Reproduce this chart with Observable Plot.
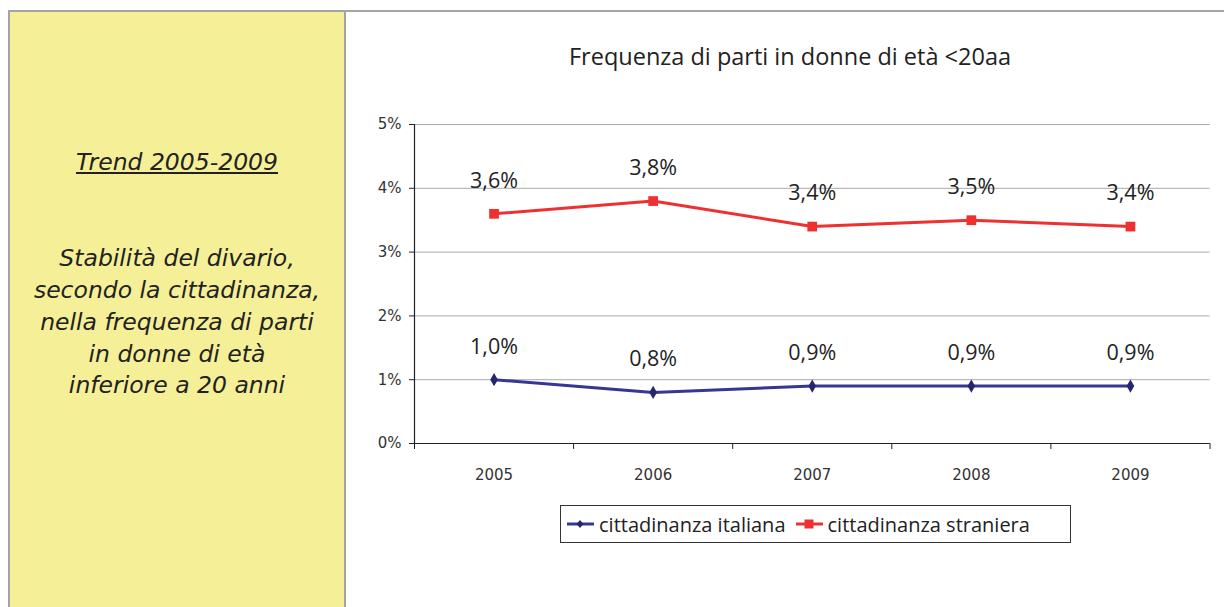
<!DOCTYPE html>
<html>
<head>
<meta charset="utf-8">
<script src="https://cdn.jsdelivr.net/npm/d3@7"></script>
<script src="https://cdn.jsdelivr.net/npm/@observablehq/plot@0.6"></script>
<style>
  html, body { margin: 0; padding: 0; background: #fff; }
  #page { position: relative; width: 1224px; height: 607px; overflow: hidden; }
  #topline { position: absolute; left: 8px; top: 10px; width: 1216px; height: 2px; background: #a4a4a4; }
  #panel { position: absolute; left: 8px; top: 10px; width: 334px; height: 620px; background: #f5f097;
           border-left: 2px solid #a4a4a4; border-top: 2px solid #a4a4a4; border-right: 2px solid #a4a4a4; }
  #panel .t { position: absolute; left: 0; width: 334px; text-align: center; font-family: "DejaVu Sans", Verdana, sans-serif;
              font-style: italic; font-size: 23.5px; line-height: 28px; color: #222; white-space: nowrap; }
  #title { position: absolute; left: 490px; width: 600px; top: 40px; text-align: center;
           font-family: "Open Sans", sans-serif; font-size: 23.5px; color: #222; }
  #chart { position: absolute; left: 346px; top: 0; }
  #legend { position: absolute; left: 560px; top: 505px; width: 509px; height: 36px; border: 1px solid #333;
            font-family: "Open Sans", sans-serif; font-size: 20px; color: #222; display: flex; align-items: center; }
  #legend .item { display: flex; align-items: center; margin-left: 6px; }
  #legend svg { margin-right: 5px; }
</style>
</head>
<body>
<div id="page">
  <div id="topline"></div>
  <div id="panel"></div>
  <div id="title">Frequenza di parti in donne di età &lt;20aa</div>
  <div id="chart"></div>
  <div id="legend"></div>
</div>
<script>
const years = [2005, 2006, 2007, 2008, 2009];
const italiana = [1.0, 0.8, 0.9, 0.9, 0.9];
const straniera = [3.6, 3.8, 3.4, 3.5, 3.4];
const yTicks = [0, 1, 2, 3, 4, 5];
const seriesNames = ["cittadinanza italiana", "cittadinanza straniera"];
const seriesColors = ["#363694", "#ef3030"];
const markerColors = ["#26266e", "#ef3030"];
const symbols = ["diamond", "square"];
const panelLines = ["Trend 2005-2009", "", "", "Stabilità del divario,", "secondo la cittadinanza,", "nella frequenza di parti", "in donne di età", "inferiore a 20 anni"];

// left panel text
const panel = document.getElementById("panel");
const panelTops = [150, null, null, 246, 278, 310, 342, 373];
panelLines.forEach((s, i) => {
  if (!s) return;
  const d = document.createElement("div");
  d.className = "t";
  d.style.top = (panelTops[i] - 14) + "px";
  d.textContent = s;
  if (i === 0) d.style.textDecoration = "underline";
  panel.appendChild(d);
});

const data = [];
years.forEach((y, i) => {
  data.push({year: y, value: italiana[i], series: seriesNames[0]});
  data.push({year: y, value: straniera[i], series: seriesNames[1]});
});
const fmt = v => v.toFixed(1).replace(".", ",") + "%";
const bounds = years.map(y => y - 0.5).concat([years[years.length - 1] + 0.5]);

const chart = Plot.plot({
  width: 878,
  height: 500,
  marginLeft: 68,
  marginRight: 14.5,
  marginTop: 124,
  marginBottom: 57,
  style: {fontFamily: "DejaVu Sans, Verdana, sans-serif", fontSize: "15px", color: "#222", background: "transparent"},
  x: {type: "linear", domain: [bounds[0], bounds[bounds.length - 1]], label: null},
  y: {domain: [0, 5], label: null},
  color: {domain: seriesNames, range: seriesColors},
  marks: [
    Plot.gridY(yTicks, {stroke: "#aaa", strokeOpacity: 1, strokeWidth: 1}),
    Plot.axisY(yTicks, {tickSize: 5, tickPadding: 8, tickFormat: d => d + "%", stroke: "#222", fill: "#333", fontSize: 15, label: null}),
    Plot.axisX(bounds, {tickSize: 6, tickFormat: () => "", stroke: "#222", label: null}),
    Plot.axisX(years, {tickSize: 0, tickPadding: 26, tickFormat: d => String(d), fill: "#333", fontSize: 15, label: null}),
    Plot.ruleX([bounds[0]], {stroke: "#222", strokeWidth: 1.2}),
    Plot.ruleY([0], {stroke: "#222", strokeWidth: 1.2}),
    Plot.line(data, {x: "year", y: "value", z: "series", stroke: "series", strokeWidth: 3}),
    Plot.dot(data.filter(d => d.series === seriesNames[0]), {x: "year", y: "value", symbol: "diamond", r: 4, fill: markerColors[0], stroke: "none"}),
    Plot.dot(data.filter(d => d.series === seriesNames[1]), {x: "year", y: "value", symbol: "square", r: 5.5, fill: markerColors[1], stroke: "none"}),
    Plot.text(data, {x: "year", y: "value", text: d => fmt(d.value), dy: -33, fontSize: 21.5, fontFamily: "Open Sans, sans-serif", fill: "#222"})
  ]
});
document.getElementById("chart").appendChild(chart);

// legend
const legend = document.getElementById("legend");
seriesNames.forEach((name, i) => {
  const item = document.createElement("div");
  item.className = "item";
  const sym = symbols[i] === "diamond"
    ? `<path d="M13,6 L16.5,10 L13,14 L9.5,10 Z" fill="${markerColors[i]}"/>`
    : `<rect x="8.5" y="5.5" width="9" height="9" fill="${markerColors[i]}"/>`;
  item.innerHTML = `<svg width="27" height="20"><line x1="0" y1="10" x2="27" y2="10" stroke="${seriesColors[i]}" stroke-width="3"/>${sym}</svg><span>${name}</span>`;
  if (i === 1) item.style.marginLeft = "10px";
  legend.appendChild(item);
});
</script>
</body>
</html>
